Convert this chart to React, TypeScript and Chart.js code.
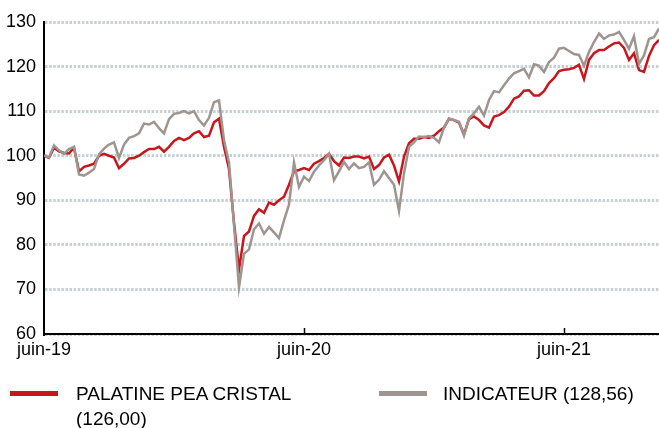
import React, { useEffect, useRef } from 'react';
import { Chart, registerables } from 'chart.js';

Chart.register(...registerables);

const fundLabelLine1 = 'PALATINE PEA CRISTAL';
const fundLabelLine2 = '(126,00)';
const indexLabel = 'INDICATEUR (128,56)';

const xTickLabels = ['juin-19', 'juin-20', 'juin-21'];
const xTickWeeks = [0, 52, 104];
const yTickValues = [60, 70, 80, 90, 100, 110, 120, 130];

// weekly values, base 100 in June 2019
const fund = [
  100, 99.5, 101.8, 101, 100.6, 100.5, 101.8, 96.5, 97.5, 97.8,
  98.2, 100, 100.4, 100, 99.6, 97.2, 98.2, 99.4, 99.5, 100,
  100.8, 101.5, 101.5, 102, 100.9, 102, 103.3, 104, 103.5, 104,
  105, 105.5, 104.2, 104.5, 107.5, 108.3, 102, 97, 85, 74.5,
  82, 83, 86.5, 88, 87.2, 89.5, 89, 90, 90.8, 93.5,
  96.5, 96.8, 97.2, 96.8, 98.2, 98.8, 99.5, 100.4, 98.8, 97.8,
  99.6, 99.5, 99.8, 99.8, 99.4, 99.8, 97, 97.9, 99.6, 100.2,
  97.8, 94.2, 99.8, 102.8, 103.8, 103.8, 104.2, 104, 104.5, 105.5,
  106.3, 108.3, 108, 107.4, 104.8, 108.2, 108.8, 108, 106.8, 106.3,
  108.8, 109.1, 109.8, 111, 112.8, 113.3, 114.6, 114.7, 113.5, 113.5,
  114.5, 116.3, 117.4, 119, 119.3, 119.4, 119.7, 120.4, 117.2, 121.5,
  123, 123.7, 123.7, 124.5, 125.2, 125.4, 124.2, 121.5, 123, 119.2,
  118.8, 122.4, 124.8, 126.0,
];

const indicator = [
  100, 99.6, 102.3, 101.2, 100.4, 101.5, 102, 95.8, 95.5, 96.2,
  97, 100.3, 101.6, 102.5, 103, 99.5, 102.5, 104, 104.4, 105,
  107.2, 107, 107.6, 106.2, 105, 108.2, 109.4, 109.6, 110, 109.5,
  110, 108, 106.8, 108.5, 112, 112.4, 103.5, 98.5, 84.5, 70.5,
  78, 79, 83.5, 84.8, 82.5, 84, 82.8, 81.5, 85.5, 89,
  98.5, 93, 95.3, 94.3, 96.4, 97.8, 99, 100.4, 94.5, 96.5,
  98.6, 97, 98.3, 97.2, 97.5, 98.5, 93.5, 94.6, 96.5, 95,
  93.5, 87.6, 96, 102, 103, 104.3, 104.2, 104.4, 104, 103,
  106.3, 108.3, 108, 107.6, 104.5, 108.4, 109.5, 111, 109, 112.5,
  114.5, 114.2, 115.8, 117.3, 118.5, 119, 119.5, 117.6, 120.5, 120.2,
  118.8, 121, 122, 124, 124.2, 123.5, 122.8, 122.6, 120.2, 123.3,
  125.5, 127.4, 126.2, 127, 127.2, 127.8, 126, 124, 126.8, 120.6,
  122.5, 126.2, 126.6, 128.56,
];

const RED = '#c8161d';
const GREY = '#9f9590';
const FONT = "'Liberation Sans', Arial, sans-serif";

export default function App() {
  const ref = useRef<HTMLCanvasElement>(null);

  useEffect(() => {
    if (!ref.current) return;
    const insideTicks = {
      id: 'insideTicks',
      afterDatasetsDraw(chart: any) {
        const xs = chart.scales.x;
        const ctx = chart.ctx;
        const bottom = chart.chartArea.bottom;
        ctx.save();
        ctx.strokeStyle = '#000';
        ctx.lineWidth = 1.5;
        xTickWeeks.slice(1).forEach((w) => {
          const px = Math.round(xs.getPixelForValue(w)) + 0.5;
          ctx.beginPath();
          ctx.moveTo(px, bottom);
          ctx.lineTo(px, bottom - 6);
          ctx.stroke();
        });
        ctx.restore();
      },
    };

    const chart = new Chart(ref.current, {
      type: 'line',
      data: {
        datasets: [
          {
            label: fundLabelLine1 + ' ' + fundLabelLine2,
            data: fund.map((v, i) => ({ x: i, y: v })),
            borderColor: RED,
            borderWidth: 2.5,
            pointRadius: 0,
            tension: 0,
            order: 1,
          },
          {
            label: indexLabel,
            data: indicator.map((v, i) => ({ x: i, y: v })),
            borderColor: GREY,
            borderWidth: 2.5,
            pointRadius: 0,
            tension: 0,
            order: 0,
          },
        ],
      },
      options: {
        animation: false,
        responsive: false,
        maintainAspectRatio: false,
        layout: { padding: { top: 22, right: 0, left: 0, bottom: 0 } },
        plugins: { legend: { display: false }, tooltip: { enabled: false } },
        scales: {
          x: {
            type: 'linear',
            min: 0,
            max: fund.length - 1,
            afterBuildTicks: (s: any) => {
              s.ticks = xTickWeeks.map((v) => ({ value: v }));
            },
            afterFit: (s: any) => {
              s.height = 36;
            },
            ticks: {
              callback: (v: any) => {
                const k = xTickWeeks.indexOf(Number(v));
                return k >= 0 ? xTickLabels[k] : '';
              },
              autoSkip: false,
              maxRotation: 0,
              padding: 5,
              color: '#000',
              font: { family: FONT, size: 18 },
            },
            grid: { display: false, drawTicks: false },
            border: { display: true, color: '#000', width: 2 },
          },
          y: {
            min: 60,
            max: 130,
            afterBuildTicks: (s: any) => {
              s.ticks = yTickValues.map((v) => ({ value: v }));
            },
            afterFit: (s: any) => {
              s.width = 44;
            },
            ticks: {
              padding: 8,
              color: '#000',
              font: { family: FONT, size: 18 },
            },
            grid: { color: '#c6d1d4', lineWidth: 3, drawTicks: false },
            border: { display: true, color: '#000', width: 2, dash: [2.5, 1.6] },
          },
        },
      },
      plugins: [insideTicks],
    });
    return () => chart.destroy();
  }, []);

  const textStyle: React.CSSProperties = {
    position: 'absolute',
    fontFamily: FONT,
    fontSize: 19,
    lineHeight: '25px',
    color: '#000',
    whiteSpace: 'nowrap',
  };

  return (
    <div style={{ position: 'fixed', left: 0, top: 0, width: 659, height: 428, background: '#fff' }}>
      <canvas ref={ref} width={659} height={370} style={{ position: 'absolute', left: 0, top: 0 }} />
      <div style={{ position: 'absolute', left: 10, top: 391, width: 48, height: 5, background: RED }} />
      <div style={{ ...textStyle, left: 76, top: 381 }}>
        <div>{fundLabelLine1}</div>
        <div>{fundLabelLine2}</div>
      </div>
      <div style={{ position: 'absolute', left: 379, top: 391, width: 48, height: 5, background: GREY }} />
      <div style={{ ...textStyle, left: 443, top: 381 }}>{indexLabel}</div>
    </div>
  );
}
